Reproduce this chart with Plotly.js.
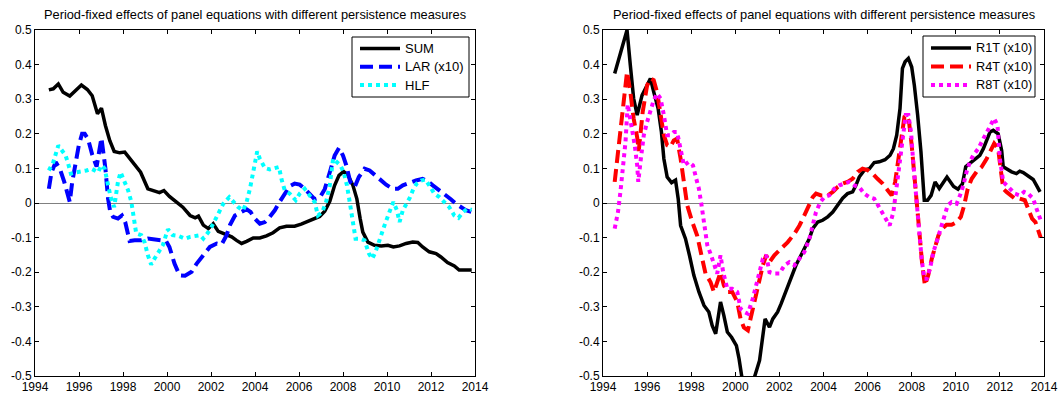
<!DOCTYPE html>
<html>
<head>
<meta charset="utf-8">
<script src="https://cdn.plot.ly/plotly-3.0.1.min.js"></script>
<style>html,body{margin:0;padding:0;background:#fff;}#chart{width:1062px;height:398px;}</style>
</head>
<body>
<div id="chart"></div>
<script>
// ---------- data (left panel) ----------
const sumX = [1994.63,1994.83,1995.06,1995.28,1995.58,1995.84,1996.11,1996.38,1996.6,1996.84,1997.02,1997.2,1997.4,1997.6,1997.85,1998.08,1998.3,1998.53,1998.8,1999.13,1999.43,1999.66,1999.86,2000.11,2000.42,2000.72,2001.05,2001.28,2001.43,2001.65,2001.88,2002.1,2002.33,2002.63,2002.94,2003.16,2003.39,2003.62,2003.92,2004.22,2004.52,2004.82,2005.12,2005.43,2005.8,2006.1,2006.41,2006.71,2006.94,2007.17,2007.4,2007.62,2007.82,2008.03,2008.23,2008.45,2008.63,2008.78,2008.9,2009.13,2009.43,2009.74,2010.04,2010.29,2010.57,2010.87,2011.17,2011.4,2011.62,2011.92,2012.23,2012.45,2012.75,2013.06,2013.28,2013.5,2013.85];
const sumY = [0.327,0.33,0.344,0.32,0.309,0.325,0.341,0.328,0.31,0.258,0.274,0.224,0.18,0.149,0.145,0.147,0.128,0.109,0.089,0.041,0.034,0.03,0.036,0.019,0.003,-0.012,-0.036,-0.043,-0.038,-0.064,-0.074,-0.06,-0.082,-0.091,-0.098,-0.108,-0.117,-0.111,-0.101,-0.101,-0.095,-0.086,-0.072,-0.067,-0.067,-0.061,-0.053,-0.045,-0.039,-0.024,0.005,0.051,0.08,0.091,0.08,0.051,0.012,-0.045,-0.084,-0.113,-0.122,-0.124,-0.122,-0.127,-0.124,-0.117,-0.113,-0.114,-0.127,-0.141,-0.146,-0.156,-0.172,-0.182,-0.194,-0.194,-0.194];

const larX = [1994.63,1994.75,1994.94,1995.13,1995.33,1995.58,1995.69,1995.84,1995.99,1996.14,1996.26,1996.41,1996.6,1996.8,1997.02,1997.2,1997.32,1997.42,1997.55,1997.77,1997.95,1998.1,1998.23,1998.3,1998.53,1998.83,1999.13,1999.5,1999.96,2000.11,2000.34,2000.57,2000.82,2001.12,2001.35,2001.65,2001.95,2002.26,2002.48,2002.71,2002.86,2003.09,2003.39,2003.62,2003.8,2003.99,2004.22,2004.45,2004.67,2004.9,2005.12,2005.35,2005.58,2005.8,2006.03,2006.26,2006.48,2006.71,2006.94,2007.17,2007.4,2007.62,2007.82,2008.0,2008.15,2008.33,2008.53,2008.72,2008.98,2009.21,2009.43,2009.66,2009.96,2010.26,2010.49,2010.72,2011.02,2011.32,2011.62,2011.85,2012.08,2012.38,2012.68,2012.9,2013.13,2013.36,2013.58,2013.85];
const larY = [0.041,0.089,0.118,0.099,0.061,0.003,0.06,0.118,0.166,0.2,0.2,0.185,0.14,0.105,0.188,0.1,0.013,-0.026,-0.04,-0.045,-0.036,-0.055,-0.084,-0.11,-0.108,-0.108,-0.103,-0.105,-0.11,-0.127,-0.175,-0.209,-0.21,-0.199,-0.175,-0.151,-0.127,-0.117,-0.12,-0.093,-0.064,-0.036,-0.026,-0.018,-0.026,-0.045,-0.06,-0.055,-0.04,-0.021,0.003,0.027,0.049,0.056,0.053,0.041,0.027,0.011,0.015,0.04,0.089,0.137,0.159,0.137,0.109,0.061,0.046,0.075,0.099,0.094,0.082,0.068,0.053,0.041,0.041,0.051,0.059,0.065,0.07,0.063,0.051,0.037,0.022,0.011,-0.002,-0.012,-0.021,-0.026];

const hlfX = [1994.63,1994.83,1995.06,1995.2,1995.39,1995.51,1995.63,1995.89,1996.11,1996.34,1996.57,1996.87,1997.02,1997.17,1997.29,1997.44,1997.6,1997.77,1997.89,1998.05,1998.23,1998.38,1998.5,1998.6,1998.83,1998.98,1999.13,1999.28,1999.43,1999.62,1999.81,2000.04,2000.26,2000.52,2000.82,2001.05,2001.28,2001.5,2001.65,2001.88,2002.1,2002.33,2002.56,2002.83,2003.01,2003.24,2003.46,2003.62,2003.77,2003.92,2004.04,2004.1,2004.22,2004.45,2004.67,2004.9,2005.09,2005.2,2005.35,2005.58,2005.85,2006.03,2006.26,2006.48,2006.71,2006.86,2007.06,2007.24,2007.4,2007.55,2007.7,2007.88,2008.03,2008.18,2008.33,2008.45,2008.57,2008.75,2008.98,2009.18,2009.33,2009.48,2009.66,2009.89,2010.11,2010.29,2010.45,2010.57,2010.72,2010.9,2011.05,2011.2,2011.35,2011.55,2011.74,2011.92,2012.15,2012.38,2012.6,2012.83,2013.06,2013.25,2013.46,2013.66,2013.85];
const hlfY = [0.094,0.118,0.166,0.152,0.1375,0.113,0.085,0.089,0.091,0.094,0.099,0.089,0.109,0.099,0.061,0.017,-0.012,0.061,0.089,0.065,0.037,0.003,-0.045,-0.088,-0.093,-0.113,-0.151,-0.178,-0.161,-0.141,-0.122,-0.076,-0.093,-0.095,-0.103,-0.098,-0.095,-0.093,-0.103,-0.084,-0.06,-0.031,-0.002,0.017,0.003,-0.012,-0.021,0.003,0.041,0.089,0.1375,0.149,0.128,0.101,0.097,0.101,0.104,0.07,0.037,0.027,0.008,0.027,0.041,0.022,0.003,-0.036,-0.026,0.005,0.051,0.128,0.118,0.109,0.089,0.051,-0.007,-0.055,-0.103,-0.103,-0.108,-0.146,-0.161,-0.141,-0.103,-0.064,-0.026,0.003,-0.021,-0.055,-0.021,-0.002,0.017,0.041,0.056,0.065,0.068,0.051,0.027,0.017,0.003,-0.012,-0.036,-0.043,-0.026,-0.016,-0.02];

// ---------- data (right panel) ----------
const r1tX = [1994.53,1994.74,1994.94,1995.09,1995.24,1995.39,1995.55,1995.77,1996.0,1996.15,1996.3,1996.5,1996.65,1996.76,1996.91,1997.11,1997.29,1997.41,1997.52,1997.74,1997.92,1998.12,1998.35,1998.58,1998.8,1998.95,1999.11,1999.23,1999.33,1999.48,1999.64,1999.83,2000.05,2000.17,2000.29,2000.6,2000.87,2001.1,2001.35,2001.55,2001.7,2001.92,2002.08,2002.3,2002.53,2002.75,2002.98,2003.21,2003.36,2003.51,2003.74,2003.96,2004.19,2004.42,2004.64,2004.87,2005.09,2005.32,2005.47,2005.62,2005.85,2006.08,2006.3,2006.53,2006.79,2007.02,2007.17,2007.32,2007.47,2007.58,2007.7,2007.85,2008.0,2008.12,2008.27,2008.42,2008.57,2008.72,2008.88,2009.06,2009.25,2009.6,2009.9,2010.1,2010.3,2010.45,2010.72,2010.9,2011.09,2011.25,2011.4,2011.55,2011.7,2011.92,2012.08,2012.15,2012.3,2012.53,2012.75,2012.9,2013.06,2013.28,2013.51,2013.66,2013.82];
const r1tY = [0.374,0.422,0.461,0.5,0.398,0.302,0.254,0.311,0.34,0.36,0.321,0.273,0.205,0.128,0.075,0.059,0.066,0.0125,-0.065,-0.103,-0.151,-0.209,-0.257,-0.296,-0.315,-0.354,-0.378,-0.325,-0.286,-0.325,-0.373,-0.388,-0.412,-0.45,-0.5,-0.56,-0.5,-0.455,-0.335,-0.359,-0.335,-0.315,-0.291,-0.253,-0.219,-0.18,-0.151,-0.122,-0.103,-0.074,-0.055,-0.05,-0.04,-0.026,-0.007,0.014,0.027,0.032,0.051,0.075,0.095,0.099,0.117,0.119,0.125,0.138,0.157,0.196,0.273,0.389,0.408,0.418,0.393,0.34,0.254,0.148,0.008,0.008,0.022,0.061,0.042,0.075,0.048,0.04,0.055,0.105,0.119,0.128,0.138,0.157,0.181,0.205,0.21,0.2,0.152,0.105,0.099,0.09,0.085,0.092,0.088,0.078,0.068,0.051,0.032];

const r4tX = [1994.53,1994.68,1994.83,1994.98,1995.09,1995.24,1995.39,1995.55,1995.62,1995.8,1996.0,1996.15,1996.3,1996.45,1996.61,1996.76,1996.91,1997.06,1997.21,1997.36,1997.52,1997.67,1997.82,1998.05,1998.27,1998.5,1998.65,1998.88,1999.03,1999.18,1999.33,1999.48,1999.64,1999.86,2000.09,2000.24,2000.39,2000.57,2000.79,2001.02,2001.25,2001.4,2001.55,2001.77,2002.08,2002.38,2002.68,2002.91,2003.13,2003.36,2003.51,2003.66,2003.89,2004.19,2004.42,2004.64,2004.87,2005.09,2005.32,2005.55,2005.77,2006.0,2006.23,2006.45,2006.68,2006.91,2007.09,2007.25,2007.4,2007.55,2007.67,2007.77,2007.88,2008.0,2008.12,2008.24,2008.36,2008.48,2008.6,2008.75,2008.91,2009.06,2009.21,2009.39,2009.58,2009.81,2010.04,2010.23,2010.38,2010.54,2010.72,2010.94,2011.17,2011.4,2011.59,2011.74,2011.92,2012.05,2012.15,2012.3,2012.5,2012.68,2012.9,2013.13,2013.31,2013.46,2013.61,2013.85];
const r4tY = [0.061,0.148,0.244,0.34,0.379,0.321,0.244,0.19,0.15,0.263,0.34,0.36,0.355,0.321,0.263,0.196,0.167,0.162,0.181,0.186,0.128,0.051,-0.007,-0.055,-0.094,-0.161,-0.204,-0.229,-0.257,-0.229,-0.2,-0.238,-0.257,-0.257,-0.286,-0.335,-0.36,-0.368,-0.306,-0.238,-0.18,-0.151,-0.171,-0.151,-0.132,-0.113,-0.089,-0.065,-0.036,-0.007,0.017,0.027,0.022,0.022,0.032,0.046,0.056,0.061,0.07,0.09,0.099,0.095,0.085,0.07,0.056,0.037,0.022,0.061,0.128,0.205,0.249,0.254,0.234,0.167,0.08,-0.026,-0.113,-0.18,-0.238,-0.209,-0.161,-0.122,-0.094,-0.074,-0.063,-0.063,-0.055,-0.04,-0.007,0.041,0.07,0.09,0.104,0.128,0.152,0.172,0.157,0.09,0.041,0.032,0.022,0.0125,0.0125,0.008,-0.021,-0.045,-0.055,-0.1];

const r8tX = [1994.53,1994.68,1994.79,1994.89,1995.02,1995.12,1995.32,1995.44,1995.55,1995.6,1995.7,1995.85,1996.0,1996.15,1996.3,1996.45,1996.61,1996.76,1996.91,1997.06,1997.21,1997.36,1997.52,1997.67,1997.89,1998.08,1998.23,1998.35,1998.47,1998.58,1998.73,1998.88,1999.03,1999.18,1999.33,1999.45,1999.64,1999.86,2000.09,2000.24,2000.41,2000.57,2000.79,2001.02,2001.25,2001.4,2001.55,2001.77,2002.0,2002.23,2002.45,2002.68,2002.91,2003.13,2003.36,2003.51,2003.66,2003.86,2004.04,2004.26,2004.49,2004.72,2004.94,2005.17,2005.4,2005.62,2005.85,2006.08,2006.3,2006.53,2006.75,2007.0,2007.17,2007.32,2007.47,2007.62,2007.73,2007.85,2007.97,2008.08,2008.23,2008.33,2008.45,2008.57,2008.68,2008.83,2008.98,2009.13,2009.28,2009.48,2009.63,2009.81,2010.04,2010.19,2010.34,2010.49,2010.64,2010.79,2011.02,2011.25,2011.47,2011.62,2011.74,2011.89,2012.0,2012.15,2012.3,2012.5,2012.68,2012.9,2013.1,2013.28,2013.51,2013.66,2013.85];
const r8tY = [-0.074,-0.026,0.032,0.09,0.176,0.285,0.215,0.167,0.109,0.061,0.119,0.196,0.234,0.263,0.297,0.316,0.302,0.254,0.196,0.196,0.205,0.205,0.157,0.109,0.119,0.109,0.07,0.041,-0.007,-0.065,-0.122,-0.147,-0.18,-0.204,-0.151,-0.2,-0.248,-0.248,-0.257,-0.306,-0.315,-0.32,-0.277,-0.219,-0.161,-0.151,-0.2,-0.204,-0.204,-0.18,-0.171,-0.18,-0.161,-0.142,-0.103,-0.065,-0.026,0.003,0.017,0.022,0.041,0.051,0.056,0.061,0.051,0.046,0.027,0.017,0.0125,-0.012,-0.04,-0.065,-0.026,0.051,0.119,0.215,0.254,0.254,0.205,0.109,0.003,-0.084,-0.161,-0.219,-0.219,-0.19,-0.142,-0.113,-0.084,-0.036,-0.007,0.003,-0.002,0.022,0.051,0.09,0.119,0.138,0.157,0.186,0.215,0.234,0.244,0.225,0.128,0.061,0.051,0.041,0.027,0.022,0.032,0.027,0.0125,-0.016,-0.05];

// ---------- labels ----------
const panelTitle = "Period-fixed effects of panel equations with different persistence measures";
const leftNames = ["SUM", "LAR (x10)", "HLF"];
const rightNames = ["R1T (x10)", "R4T (x10)", "R8T (x10)"];
const xTickVals = [1994,1996,1998,2000,2002,2004,2006,2008,2010,2012,2014];
const yTickVals = [0.5,0.4,0.3,0.2,0.1,0,-0.1,-0.2,-0.3,-0.4,-0.5];
const yTickText = ["0.5","0.4","0.3","0.2","0.1","0","-0.1","-0.2","-0.3","-0.4","-0.5"];

// ---------- geometry & styles ----------
const W = 1062, H = 398;
const M = {l: 35, r: 18, t: 30, b: 22};
const PW = W - M.l - M.r, PH = H - M.t - M.b;
const px = p => (p - M.l) / PW;      // pixel -> paper x
const py = p => 1 - (p - M.t) / PH;  // pixel -> paper y

const FONT = "Liberation Sans, Arial, sans-serif";
const solid = (c) => ({color: c, width: 3.5});
const dashed = (c) => ({color: c, width: 4, dash: "13px,6px"});
const dotted = (c) => ({color: c, width: 4, dash: "4px,4px"});

const leftStyles = [solid("#000000"), dashed("#0000ff"), dotted("#00ffff")];
const rightStyles = [solid("#000000"), dashed("#ff0000"), dotted("#ff00ff")];

const traces = [
  {x: sumX, y: sumY, name: leftNames[0], mode: "lines", line: leftStyles[0], xaxis: "x", yaxis: "y"},
  {x: larX, y: larY, name: leftNames[1], mode: "lines", line: leftStyles[1], xaxis: "x", yaxis: "y"},
  {x: hlfX, y: hlfY, name: leftNames[2], mode: "lines", line: leftStyles[2], xaxis: "x", yaxis: "y"},
  {x: r1tX, y: r1tY, name: rightNames[0], mode: "lines", line: rightStyles[0], xaxis: "x2", yaxis: "y2"},
  {x: r4tX, y: r4tY, name: rightNames[1], mode: "lines", line: rightStyles[1], xaxis: "x2", yaxis: "y2"},
  {x: r8tX, y: r8tY, name: rightNames[2], mode: "lines", line: rightStyles[2], xaxis: "x2", yaxis: "y2"}
];

const xBase = {
  range: [1994, 2014], tickmode: "array", tickvals: xTickVals,
  showgrid: false, zeroline: false, showline: true, mirror: "ticks",
  linecolor: "#000", linewidth: 1, ticks: "inside", ticklen: 4, tickcolor: "#000",
  tickfont: {family: FONT, size: 12, color: "#000"}
};
const yBase = {
  range: [-0.5, 0.5], tickmode: "array", tickvals: yTickVals, ticktext: yTickText,
  showgrid: false, zeroline: true, zerolinecolor: "#808080", zerolinewidth: 1,
  showline: true, mirror: "ticks", linecolor: "#000", linewidth: 1,
  ticks: "inside", ticklen: 4, tickcolor: "#000",
  tickfont: {family: FONT, size: 12, color: "#000"}
};

// legend boxes (pixel geometry)
const legends = [
  {names: leftNames, styles: leftStyles, box: [352, 37, 469, 97], sx: [360, 400], tx: 404, rows: [48.5, 66.8, 85.1], fs: 13},
  {names: rightNames, styles: rightStyles, box: [923, 36, 1035, 97], sx: [931, 971], tx: 975, rows: [48, 66.5, 85], fs: 12.7}
];
const shapes = [], annotations = [];
legends.forEach(L => {
  shapes.push({type: "rect", xref: "paper", yref: "paper", x0: px(L.box[0]), x1: px(L.box[2]), y0: py(L.box[3]), y1: py(L.box[1]),
    line: {color: "#000", width: 1}, fillcolor: "#ffffff", layer: "above"});
  L.names.forEach((n, i) => {
    shapes.push({type: "line", xref: "paper", yref: "paper", x0: px(L.sx[0]), x1: px(L.sx[1]), y0: py(L.rows[i]), y1: py(L.rows[i]),
      line: Object.assign({}, L.styles[i]), layer: "above"});
    annotations.push({text: n, xref: "paper", yref: "paper", x: px(L.tx), y: py(L.rows[i]), xanchor: "left", yanchor: "middle",
      showarrow: false, borderpad: 0, font: {family: FONT, size: L.fs, color: "#000"}});
  });
});
annotations.push(
  {text: panelTitle, xref: "x domain", yref: "paper", x: 0.5, y: py(14), xanchor: "center", yanchor: "middle", showarrow: false, font: {family: FONT, size: 12.8, color: "#000"}},
  {text: panelTitle, xref: "x2 domain", yref: "paper", x: 0.5, y: py(14), xanchor: "center", yanchor: "middle", showarrow: false, font: {family: FONT, size: 12.8, color: "#000"}}
);

const layout = {
  width: W, height: H,
  margin: {l: M.l, r: M.r, t: M.t, b: M.b, pad: 0},
  paper_bgcolor: "#fff", plot_bgcolor: "#fff",
  font: {family: FONT, color: "#000"},
  showlegend: false,
  xaxis: Object.assign({}, xBase, {domain: [0, px(475)], anchor: "y"}),
  yaxis: Object.assign({}, yBase, {anchor: "x"}),
  xaxis2: Object.assign({}, xBase, {domain: [px(603), 1], anchor: "y2"}),
  yaxis2: Object.assign({}, yBase, {anchor: "x2"}),
  shapes: shapes,
  annotations: annotations
};

Plotly.newPlot("chart", traces, layout, {staticPlot: true, displayModeBar: false});
</script>
</body>
</html>
